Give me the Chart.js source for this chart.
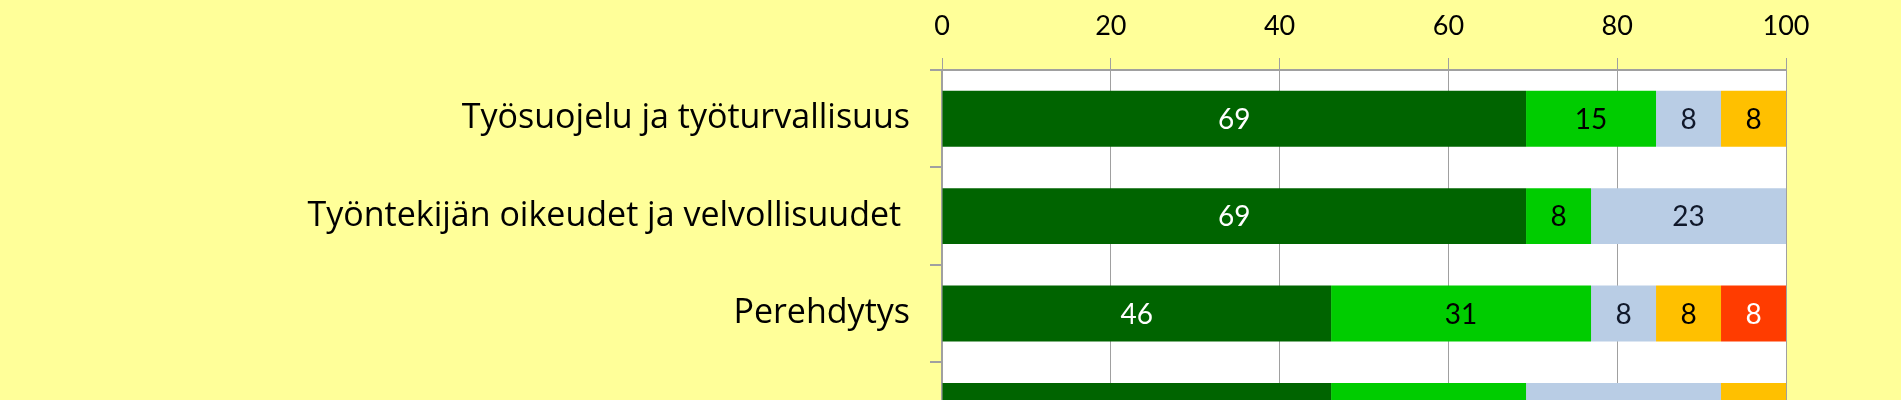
<!DOCTYPE html>
<html>
<head>
<meta charset="utf-8">
<script src="https://cdn.jsdelivr.net/npm/chart.js@4.4.0/dist/chart.umd.min.js"></script>
<style>
  html, body { margin: 0; padding: 0; background: #FFFF99; overflow: hidden; }
  #wrap { width: 1901px; height: 500px; }
</style>
</head>
<body>
<div id="wrap"><canvas id="chart" width="1901" height="500"></canvas></div>
<script>
// data (percent of answers, shown rounded)
const categories = [
  "Työsuojelu ja työturvallisuus",
  "Työntekijän oikeudet ja velvollisuudet ",
  "Perehdytys",
  ""
];
const seriesNames = ["1", "2", "3", "4", "5"];
const darkGreen = [69.2, 69.2, 46.1, 46.1];
const green = [15.4, 7.7, 30.8, 23.1];
const lightBlue = [7.7, 23.1, 7.7, 23.1];
const orange = [7.7, 0, 7.7, 7.7];
const red = [0, 0, 7.7, 0];
const xTicks = [0, 20, 40, 60, 80, 100];

const colors = ["#006400", "#00CC00", "#B9CDE5", "#FFC000", "#FF3C00"];
const labelColors = ["#FFFFFF", "#000000", "#10182A", "#000000", "#FFFFFF"];
const FONT = "Lato";
const GRID = "#A0A0A0";

const plotBg = {
  id: "plotBg",
  beforeDraw(chart) {
    const { ctx, chartArea: a } = chart;
    ctx.save();
    ctx.fillStyle = "#FFFFFF";
    ctx.fillRect(a.left, a.top, a.right - a.left, a.bottom - a.top);
    ctx.restore();
  }
};

// value labels centred in each bar segment
const barLabels = {
  id: "barLabels",
  afterDatasetsDraw(chart) {
    const ctx = chart.ctx;
    ctx.save();
    ctx.font = "28px " + FONT;
    ctx.textAlign = "center";
    ctx.textBaseline = "middle";
    chart.data.datasets.forEach((ds, i) => {
      const meta = chart.getDatasetMeta(i);
      meta.data.forEach((bar, j) => {
        const v = ds.data[j];
        if (!v) return;
        const p = bar.getProps(["x", "y", "base"], true);
        ctx.fillStyle = labelColors[i];
        ctx.fillText(Math.round(v), (p.x + p.base) / 2, p.y + 1);
      });
    });
    ctx.restore();
  }
};

const values = [darkGreen, green, lightBlue, orange, red];

new Chart(document.getElementById("chart"), {
  type: "bar",
  data: {
    labels: categories,
    datasets: values.map((d, i) => ({
      label: seriesNames[i],
      data: d,
      backgroundColor: colors[i],
      borderWidth: 0,
      categoryPercentage: 1,
      barPercentage: 0.574
    }))
  },
  options: {
    indexAxis: "y",
    responsive: false,
    animation: false,
    layout: { padding: { left: 0, right: 115, top: 0, bottom: 26 } },
    plugins: {
      legend: { display: false },
      tooltip: { enabled: false }
    },
    scales: {
      x: {
        position: "top",
        stacked: true,
        min: 0,
        max: 100,
        afterBuildTicks: (s) => { s.ticks = xTicks.map((v) => ({ value: v })); },
        afterFit: (s) => { s.height = 70; },
        ticks: {
          color: "#000000",
          font: { family: FONT, size: 27 },
          padding: 16,
          maxRotation: 0
        },
        grid: { color: GRID, lineWidth: 1, tickLength: 12 },
        border: { color: GRID, width: 2 }
      },
      y: {
        stacked: true,
        afterFit: (s) => { s.width = 942; },
        ticks: {
          color: "#000000",
          font: { family: "Open Sans", size: 34 },
          padding: 20
        },
        grid: { drawOnChartArea: false, offset: true, color: GRID, lineWidth: 2, tickLength: 12 },
        border: { color: GRID, width: 2 }
      }
    }
  },
  plugins: [plotBg, barLabels]
});
</script>
</body>
</html>
